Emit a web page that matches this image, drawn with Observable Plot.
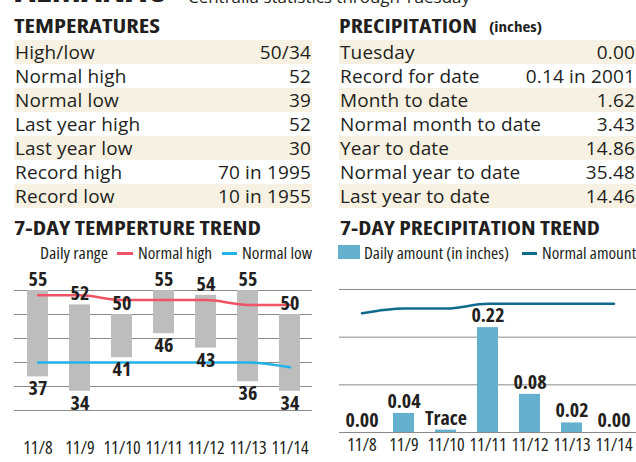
<!DOCTYPE html>
<html><head><meta charset="utf-8">
<script src="https://cdn.jsdelivr.net/npm/d3@7"></script>
<script src="https://cdn.jsdelivr.net/npm/@observablehq/plot@0.6"></script>
<style>
body{margin:0;width:636px;height:462px;overflow:hidden;background:#fff;position:relative;
 font-family:"Open Sans",sans-serif;font-stretch:75%;color:#231f20}
.abs{position:absolute;white-space:nowrap}
.row{position:absolute;height:24px;line-height:24px;font-size:19px;font-stretch:100%;letter-spacing:0.15px}
.row.sh{background:#f6f1e2}
.row .v{position:absolute;right:1px;top:0}
.row .l{position:absolute;left:1px;top:0}
.sw{position:absolute}
</style></head><body>
<script>
// ---- data ----
const tempLabels = ["High/low","Normal high","Normal low","Last year high","Last year low","Record high","Record low"];
const tempValues = ["50/34","52","39","52","30","70 in 1995","10 in 1955"];
const precLabels = ["Tuesday","Record for date","Month to date","Normal month to date","Year to date","Normal year to date","Last year to date"];
const precValues = ["0.00","0.14 in 2001","1.62","3.43","14.86","35.48","14.46"];
const days = ["11/8","11/9","11/10","11/11","11/12","11/13","11/14"];
const highs = [55,52,50,55,54,55,50];
const lows = [37,34,41,46,43,36,34];
const normalHighs = [54,54,53,53,53,52,52];
const normalLows = [40,40,40,40,40,40,39];
const tempTicks = [30,35,40,45,50,55];
const precip = [0,0.04,0.005,0.22,0.08,0.02,0];
const precipText = ["0.00","0.04","Trace","0.22","0.08","0.02","0.00"];
const normalPrecip = [0.25,0.26,0.26,0.27,0.27,0.27,0.27];
const precTicks = [0,0.1,0.2,0.3];

const FONT = '"Open Sans",sans-serif';

function el(html, style, fitW){
  const d=document.createElement("div");d.className="abs";d.innerHTML=html;Object.assign(d.style,style);
  document.body.appendChild(d);
  if(fitW){const w=d.getBoundingClientRect().width; d.style.transformOrigin="0 50%"; d.style.transform=`scaleX(${fitW/w})`;}
  return d;
}
function swatch(style){const s=document.createElement("div");s.className="sw";Object.assign(s.style,style);document.body.appendChild(s);}

// header (cut off at top edge, as in the reference)
el('ALMANAC',{left:"15px",top:"-29px",fontWeight:"bold",fontSize:"36px",lineHeight:"36px"},150);
el('Centralia statistics through Tuesday',{left:"188px",top:"-12px",fontSize:"17px",lineHeight:"17px",fontStretch:"100%"},282);
el('TEMPERATURES',{left:"14px",top:"12px",fontWeight:"bold",fontSize:"20px"},146);
el('PRECIPITATION',{left:"339px",top:"12px",fontWeight:"bold",fontSize:"20px"},138);
el('(inches)',{left:"489px",top:"16px",fontWeight:"bold",fontSize:"15px"},53);

function table(labels, values, left, width){
  labels.forEach((l,i)=>{
    const r=document.createElement("div");
    r.className="row"+(i%2===0?" sh":"");
    Object.assign(r.style,{left:left+"px",width:width+"px",top:(40+24*i)+"px"});
    r.innerHTML=`<span class="l">${l}</span><span class="v">${values[i]}</span>`;
    document.body.appendChild(r);
  });
}
table(tempLabels,tempValues,14,298);
table(precLabels,precValues,339,297);

// chart titles + legends
el('7-DAY TEMPERTURE TREND',{left:"14px",top:"214px",fontWeight:"bold",fontSize:"20px"},247);
el('7-DAY PRECIPITATION TREND',{left:"340px",top:"214px",fontWeight:"bold",fontSize:"20px"},260);
const LEG={top:"242px",fontSize:"16px",lineHeight:"22px"};
el('Daily range',{...LEG,left:"40px"},68);
swatch({left:"117px",top:"252px",width:"16px",height:"3px",background:"#ef5466"});
el('Normal high',{...LEG,left:"138px"},74);
swatch({left:"222px",top:"252px",width:"15px",height:"3px",background:"#21b2e6"});
el('Normal low',{...LEG,left:"242px"},70);
swatch({left:"338px",top:"245px",width:"22px",height:"14px",background:"#66b0cf"});
el('Daily amount (in inches)',{...LEG,left:"364px"},145);
swatch({left:"522px",top:"252px",width:"15px",height:"3px",background:"#106a8c"});
el('Normal amount',{...LEG,left:"542px"},94);

const chartStyle = {fontFamily:FONT,fontStretch:"75%",color:"#231f20",background:"transparent"};

// temperature chart
const tdata = days.map((d,i)=>({d,high:highs[i],low:lows[i],nh:normalHighs[i],nl:normalLows[i]}));
const tchart = Plot.plot({
  width:320,height:202,marginLeft:14,marginRight:8,marginTop:30,marginBottom:52,
  style:chartStyle,
  x:{domain:days,paddingInner:0.5,paddingOuter:0.25,axis:null},
  y:{domain:[30,55],axis:null},
  marks:[
    Plot.ruleY(tempTicks,{stroke:"#8a8a8a",strokeWidth:1}),
    Plot.barY(tdata,{x:"d",y1:"low",y2:"high",fill:"#bdbdbd"}),
    Plot.lineY(tdata,{x:"d",y:"nh",stroke:"#ef5466",strokeWidth:2.5,curve:"monotone-x"}),
    Plot.lineY(tdata,{x:"d",y:"nl",stroke:"#21b2e6",strokeWidth:2.5,curve:"monotone-x"}),
    Plot.text(tdata,{x:"d",y:"high",text:d=>String(d.high),dy:-11,fontSize:20,fontWeight:"bold",fill:"#231f20"}),
    Plot.text(tdata,{x:"d",y:"low",text:d=>String(d.low),dy:12,fontSize:20,fontWeight:"bold",fill:"#231f20"}),
    Plot.axisX({tickSize:0,tickPadding:31,fontSize:18,label:null})
  ]
});
Object.assign(tchart.style,{position:"absolute",left:"0px",top:"260px"});
document.body.appendChild(tchart);

// precipitation chart
const pdata = days.map((d,i)=>({d,v:precip[i],t:precipText[i],n:normalPrecip[i]}));
const pchart = Plot.plot({
  width:316,height:202,marginLeft:19,marginRight:0,marginTop:29,marginBottom:30,
  style:chartStyle,
  x:{domain:days,paddingInner:0.5,paddingOuter:0.25,axis:null},
  y:{domain:[0,0.3],axis:null},
  marks:[
    Plot.ruleY(precTicks,{stroke:"#8a8a8a",strokeWidth:1}),
    Plot.barY(pdata,{x:"d",y:"v",fill:"#66b0cf"}),
    Plot.lineY(pdata,{x:"d",y:"n",stroke:"#106a8c",strokeWidth:2.5,curve:"monotone-x"}),
    Plot.text(pdata,{x:"d",y:"v",text:"t",dy:-12,fontSize:20,fontWeight:"bold",fill:"#231f20"}),
    Plot.axisX({tickSize:0,tickPadding:6,fontSize:18,label:null})
  ]
});
Object.assign(pchart.style,{position:"absolute",left:"320px",top:"260px"});
document.body.appendChild(pchart);
</script>
</body></html>
